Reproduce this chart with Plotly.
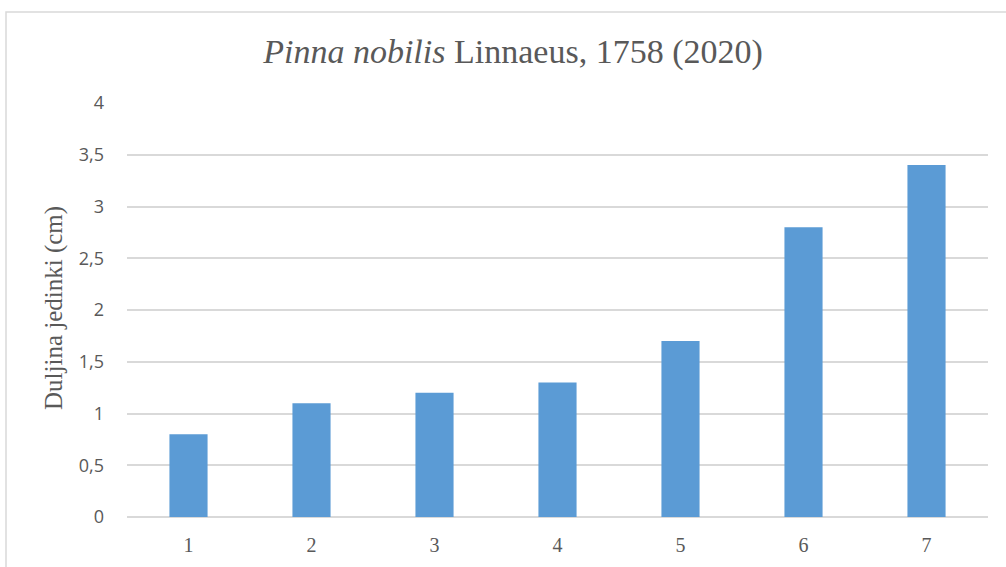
import plotly.graph_objects as go

categories = ["1", "2", "3", "4", "5", "6", "7"]
lengths = [0.8, 1.1, 1.2, 1.3, 1.7, 2.8, 3.4]
y_ticks = [0, 0.5, 1, 1.5, 2, 2.5, 3, 3.5, 4]

W, H = 1006, 567
L, R, T, B = 127, 18, 103, 50
pw, ph = W - L - R, H - T - B

fig = go.Figure(go.Bar(x=categories, y=lengths, marker_color="#5B9BD5",
                       marker_line_width=0))

def px_x(x):
    return (x - L) / pw

def px_y(y):
    return (H - B - y) / ph

fig.add_shape(type="rect", xref="paper", yref="paper",
              x0=px_x(6), x1=px_x(1020), y0=px_y(600), y1=px_y(12),
              line=dict(color="#D9D9D9", width=1.5), fillcolor="rgba(0,0,0,0)",
              layer="below")

fig.update_layout(
    width=W, height=H,
    margin=dict(l=L, r=R, t=T, b=B),
    paper_bgcolor="white", plot_bgcolor="white",
    separators=", ",
    bargap=0.69,
    showlegend=False,
    title=dict(text="<i>Pinna nobilis</i> Linnaeus, 1758 (2020)",
               x=px_x(513), xref="paper", xanchor="center", y=1 - 51 / H, yanchor="middle",
               font=dict(family="Liberation Serif", size=34, color="#595959")),
    xaxis=dict(type="category", showgrid=False, showline=False, zeroline=False,
               ticks="", ticklabelstandoff=14,
               tickfont=dict(family="Liberation Serif", size=20, color="#595959")),
    yaxis=dict(range=[0, 4], tickvals=y_ticks, showgrid=True, gridcolor="#D9D9D9",
               gridwidth=1.5, zeroline=True, zerolinecolor="#D9D9D9", zerolinewidth=1.5,
               ticks="", ticklen=0, ticklabelstandoff=22,
               tickfont=dict(family="Open Sans", size=18, color="#595959")),
)

fig.add_annotation(text="Duljina jedinki (cm)", xref="paper", yref="paper",
                   x=px_x(54), y=px_y(308), textangle=-90, showarrow=False,
                   xanchor="center", yanchor="middle",
                   font=dict(family="Liberation Serif", size=25, color="#595959"))

fig.write_html("out.html", config={"displayModeBar": False},
               post_script="document.body.style.margin='0px';")
